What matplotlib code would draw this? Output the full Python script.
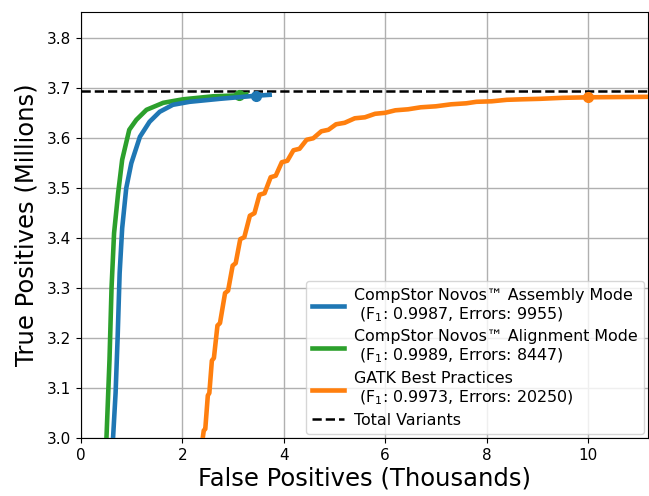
import numpy as np
import matplotlib
matplotlib.use("Agg")
import matplotlib.pyplot as plt

# ------------------------------------------------------------------
# data (false positives in thousands, true positives in millions)
# ------------------------------------------------------------------
asm_fp = [0.63, 0.68, 0.72, 0.76, 0.81, 0.89, 0.99, 1.16, 1.35, 1.55, 1.81, 2.14, 2.74, 3.43, 3.72]
asm_tp = [3.000, 3.090, 3.200, 3.330, 3.420, 3.500, 3.550, 3.603, 3.633, 3.653, 3.667, 3.673, 3.679, 3.685, 3.687]
asm_pt = (3.46, 3.685)

aln_fp = [0.50, 0.56, 0.60, 0.65, 0.73, 0.81, 0.95, 1.09, 1.29, 1.62, 2.01, 2.60, 3.12, 3.26]
aln_tp = [3.000, 3.157, 3.300, 3.410, 3.490, 3.557, 3.617, 3.637, 3.657, 3.671, 3.678, 3.684, 3.686, 3.688]
aln_pt = (3.12, 3.686)

gatk_fp = [2.40, 2.42, 2.45, 2.50, 2.53, 2.58, 2.62, 2.69, 2.74, 2.84, 2.90, 2.99, 3.05,
           3.14, 3.22, 3.33, 3.42, 3.52, 3.62, 3.74, 3.84, 3.96, 4.07, 4.19, 4.31,
           4.45, 4.58, 4.74, 4.88, 5.03, 5.20, 5.40, 5.60, 5.80, 6.00, 6.20, 6.45,
           6.70, 7.00, 7.30, 7.60, 7.80, 8.10, 8.40, 8.70, 9.06, 9.50, 10.00, 11.20]
gatk_tp = [3.000, 3.015, 3.018, 3.085, 3.090, 3.155, 3.160, 3.225, 3.230, 3.290, 3.295, 3.345, 3.350,
           3.398, 3.402, 3.445, 3.450, 3.487, 3.490, 3.522, 3.525, 3.552, 3.555, 3.576, 3.579,
           3.597, 3.600, 3.614, 3.617, 3.628, 3.631, 3.640, 3.642, 3.649, 3.651, 3.656, 3.658,
           3.662, 3.664, 3.668, 3.670, 3.673, 3.674, 3.677, 3.678, 3.679, 3.681, 3.682, 3.683]
gatk_pt = (10.0, 3.682)

total_variants = 3.694

labels = ["CompStor Novos\u2122 Assembly Mode\n (F$_1$: 0.9987, Errors: 9955)",
          "CompStor Novos\u2122 Alignment Mode\n (F$_1$: 0.9989, Errors: 8447)",
          "GATK Best Practices\n (F$_1$: 0.9973, Errors: 20250)",
          "Total Variants"]

# ------------------------------------------------------------------
# plot
# ------------------------------------------------------------------
fig = plt.figure(figsize=(6.49, 4.96), dpi=100)
ax = fig.add_axes([0.125, 0.117, 0.873, 0.858])

lw = 3.3
ax.plot(asm_fp, asm_tp, color="#1f77b4", lw=lw, label=labels[0], zorder=4)
ax.plot(*asm_pt, "o", color="#1f77b4", ms=7, zorder=5)
ax.plot(aln_fp, aln_tp, color="#2ca02c", lw=lw, label=labels[1], zorder=3)
ax.plot(*aln_pt, "o", color="#2ca02c", ms=7, zorder=3)
ax.plot(gatk_fp, gatk_tp, color="#ff7f0e", lw=lw, label=labels[2], zorder=3)
ax.plot(*gatk_pt, "o", color="#ff7f0e", ms=7, zorder=3)
ax.axhline(total_variants, color="black", ls="--", lw=1.8, label=labels[3], zorder=2)

ax.set_xlim(0, 11.18)
ax.set_ylim(3.0, 3.852)
ax.set_xticks([0, 2, 4, 6, 8, 10])
ax.set_yticks(np.arange(3.0, 3.81, 0.1))
ax.grid(True, color="#b0b0b0", lw=1.0)
ax.set_axisbelow(True)
ax.tick_params(labelsize=11)
ax.set_xlabel("False Positives (Thousands)", fontsize=17.5, labelpad=3)
ax.set_ylabel("True Positives (Millions)", fontsize=17.5, labelpad=6)

ax.legend(loc="lower right", fontsize=11.4, handlelength=2.0, borderaxespad=0.25,
          labelspacing=0.35, handletextpad=0.6, borderpad=0.4)

fig.savefig("out.png", dpi=100)
